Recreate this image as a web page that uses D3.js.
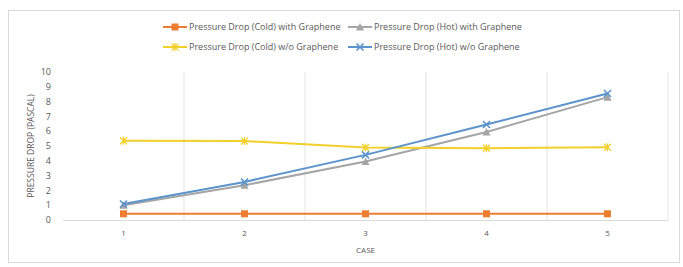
<!DOCTYPE html>
<meta charset="utf-8">
<style>
body { margin: 0; background: #fff; }
text { font-family: "Open Sans", sans-serif; fill: #595959; }
</style>
<body>
<svg width="683" height="267"></svg>
</body>
<script src="https://d3js.org/d3.v7.min.js"></script>
<script>

var cases = ["1", "2", "3", "4", "5"];
var yTicks = [0, 1, 2, 3, 4, 5, 6, 7, 8, 9, 10];
var coldWith = [0.42, 0.42, 0.42, 0.42, 0.42];
var hotWith = [1.0, 2.35, 3.95, 5.95, 8.3];
var coldWithout = [5.35, 5.33, 4.9, 4.85, 4.92];
var hotWithout = [1.08, 2.57, 4.4, 6.45, 8.55];
var seriesNames = [
  "Pressure Drop (Cold) with Graphene",
  "Pressure Drop  (Hot) with Graphene",
  "Pressure Drop (Cold) w/o Graphene",
  "Pressure Drop (Hot) w/o Graphene"
];

var series = [
  {name: seriesNames[0], values: coldWith, color: "#ed7d31", marker: "square"},
  {name: seriesNames[1], values: hotWith, color: "#a5a5a5", marker: "triangle"},
  {name: seriesNames[2], values: coldWithout, color: "#f2cf2a", marker: "star"},
  {name: seriesNames[3], values: hotWithout, color: "#5b93cc", marker: "x"}
];

var svg = d3.select("svg"),
    margin = {top: 72, right: 15, bottom: 47, left: 63},
    width = 683 - margin.left - margin.right,
    height = 267 - margin.top - margin.bottom;

// chart border
svg.append("rect")
    .attr("x", 8.5).attr("y", 10.5)
    .attr("width", 671).attr("height", 252)
    .attr("fill", "#fff").attr("stroke", "#d9d9d9");

var g = svg.append("g").attr("transform", "translate(" + margin.left + "," + margin.top + ")");

var x = d3.scaleBand().domain(cases).range([0, width]);
var y = d3.scaleLinear().domain([0, 10]).range([height, 0]);

// vertical gridlines at category boundaries
g.selectAll(".grid")
  .data(cases)
  .enter().append("line")
    .attr("x1", function(d) { return x(d) + x.bandwidth(); })
    .attr("x2", function(d) { return x(d) + x.bandwidth(); })
    .attr("y1", 0).attr("y2", height)
    .attr("stroke", "#e3e3e3");

g.append("line")
    .attr("x1", 0).attr("x2", width)
    .attr("y1", height + 0.5).attr("y2", height + 0.5)
    .attr("stroke", "#d9d9d9");

g.selectAll(".ytick")
  .data(yTicks)
  .enter().append("text")
    .attr("x", -12)
    .attr("y", function(d) { return y(d); })
    .attr("dy", "0.35em")
    .attr("text-anchor", "end")
    .style("font-size", "9px")
    .text(function(d) { return d; });

g.selectAll(".xtick")
  .data(cases)
  .enter().append("text")
    .attr("x", function(d) { return x(d) + x.bandwidth() / 2; })
    .attr("y", height + 16)
    .attr("text-anchor", "middle")
    .style("font-size", "8px")
    .text(function(d) { return d; });

g.append("text")
    .attr("x", width / 2)
    .attr("y", height + 33)
    .attr("text-anchor", "middle")
    .style("font-size", "8px")
    .text("CASE");

svg.append("text")
    .attr("transform", "translate(34," + (margin.top + height / 2) + ") rotate(-90)")
    .attr("text-anchor", "middle")
    .style("font-size", "8.5px")
    .text("PRESSURE DROP (PASCAL)");

function drawMarker(sel, type, color) {
  if (type === "square") {
    sel.append("rect").attr("x", -3.5).attr("y", -3.5).attr("width", 7).attr("height", 7).attr("fill", color);
  } else if (type === "triangle") {
    sel.append("path").attr("d", "M0,-4L4,3.5L-4,3.5Z").attr("fill", color);
  } else if (type === "star") {
    sel.append("path").attr("d", "M-3.5,-3.5L3.5,3.5M3.5,-3.5L-3.5,3.5M0,-4L0,4")
      .attr("stroke", color).attr("stroke-width", 1.3).attr("fill", "none");
  } else {
    sel.append("path").attr("d", "M-3.5,-3.5L3.5,3.5M3.5,-3.5L-3.5,3.5")
      .attr("stroke", color).attr("stroke-width", 1.6).attr("fill", "none");
  }
}

var line = d3.line()
    .x(function(d, i) { return x(cases[i]) + x.bandwidth() / 2; })
    .y(function(d) { return y(d); });

series.forEach(function(s) {
  g.append("path")
      .datum(s.values)
      .attr("d", line)
      .attr("fill", "none")
      .attr("stroke", s.color)
      .attr("stroke-width", 2);
  s.values.forEach(function(v, i) {
    var m = g.append("g")
        .attr("transform", "translate(" + (x(cases[i]) + x.bandwidth() / 2) + "," + y(v) + ")");
    drawMarker(m, s.marker, s.color);
  });
});

// legend
var legendPos = [[163, 27], [348, 27], [163, 47], [348, 47]];
series.forEach(function(s, i) {
  var lg = svg.append("g").attr("transform", "translate(" + legendPos[i][0] + "," + legendPos[i][1] + ")");
  lg.append("line").attr("x1", 0).attr("x2", 24).attr("stroke", s.color).attr("stroke-width", 2);
  var m = lg.append("g").attr("transform", "translate(12,0)");
  drawMarker(m, s.marker, s.color);
  lg.append("text")
      .attr("x", 26)
      .attr("dy", "0.35em")
      .style("font-size", "9px")
      .text(s.name);
});

</script>
